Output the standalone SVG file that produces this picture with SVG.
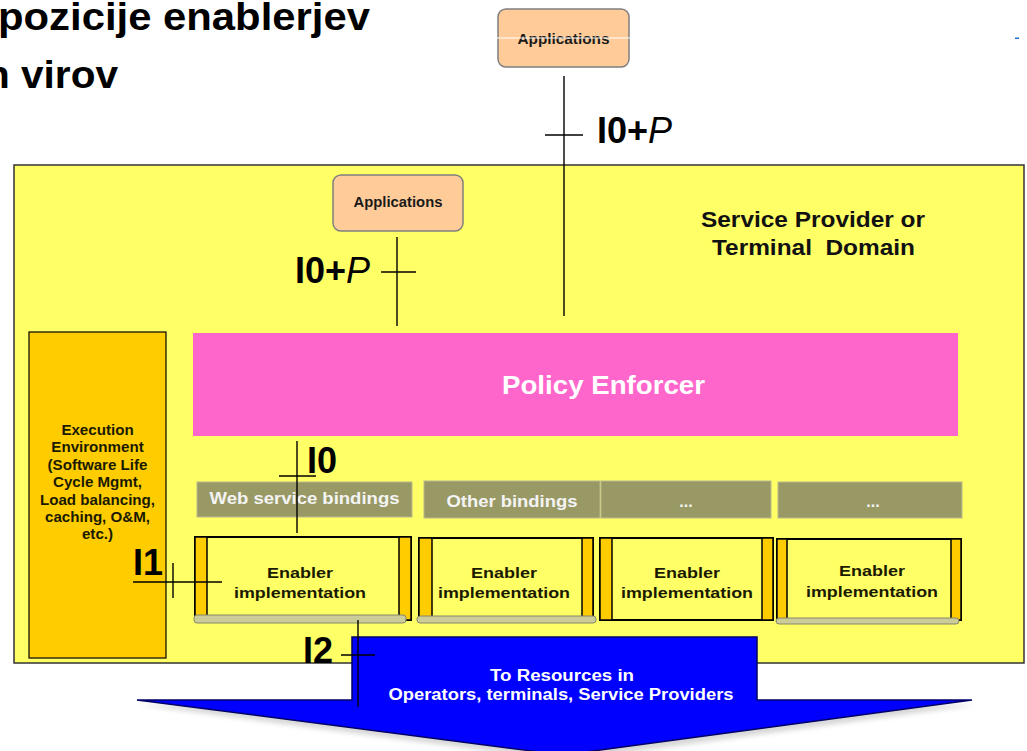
<svg xmlns="http://www.w3.org/2000/svg" width="1027" height="751" viewBox="0 0 1027 751">
<style>
text{font-family:"Liberation Sans",Arial,Helvetica,sans-serif;font-weight:bold}
.app rect{fill:#FFCC99;stroke:#7f7f7f;stroke-width:1.5}
.app text{font-size:14.5px;fill:#1a1a1a;text-anchor:middle}
.bind rect{fill:#999966;stroke:#b8b88e;stroke-width:1}
.bind text{font-size:16px;fill:#f4f4f4;text-anchor:middle}
.en .body{fill:#FFFF66;stroke:#000;stroke-width:2}
.en .bar{fill:#FFCC00;stroke:#000;stroke-width:1.5}
.en .base{fill:#CCCC99;stroke:#85856a;stroke-width:1}
.en text{font-size:15.5px;fill:#1a1a00;text-anchor:middle}
.lbl{font-size:36px;fill:#000}
.conn line{stroke:#000;stroke-width:1.4}
</style>
<defs>
  <filter id="soft" x="-10%" y="-10%" width="120%" height="130%">
    <feGaussianBlur stdDeviation="2.5"/>
  </filter>
</defs>

<!-- heading -->
<g id="heading">
  <text x="-2" y="30" font-size="38" textLength="372" lengthAdjust="spacingAndGlyphs">pozicije enablerjev</text>
  <text x="-15" y="88" font-size="38" textLength="133" lengthAdjust="spacingAndGlyphs">n virov</text>
</g>

<!-- outer applications -->
<g id="apps-top" class="app">
  <rect x="498" y="9" width="131" height="58" rx="8"/>
  <text x="563.5" y="44" textLength="92" lengthAdjust="spacingAndGlyphs">Applications</text>
  <line x1="496" y1="38" x2="630" y2="38" stroke="#fff" stroke-width="1"/>
</g>
<rect x="1015" y="37.5" width="4" height="1.5" fill="#1f6fd6"/>

<!-- domain -->
<g id="domain">
  <rect x="14" y="165" width="1010" height="498" fill="#FFFF66" stroke="#333" stroke-width="1.5"/>
  <text x="701" y="227" font-size="22" fill="#111" textLength="224" lengthAdjust="spacingAndGlyphs">Service Provider or</text>
  <text x="712" y="255" font-size="22" fill="#111" textLength="203" lengthAdjust="spacingAndGlyphs" xml:space="preserve">Terminal  Domain</text>
</g>

<g id="apps-inner" class="app">
  <rect x="333" y="175" width="130" height="56" rx="8"/>
  <text x="398" y="207" textLength="89" lengthAdjust="spacingAndGlyphs">Applications</text>
</g>

<g id="policy-enforcer">
  <rect x="193" y="333" width="765" height="103" fill="#FF66CC"/>
  <text x="603.5" y="394" font-size="26" fill="#fff" text-anchor="middle" textLength="203" lengthAdjust="spacingAndGlyphs">Policy Enforcer</text>
</g>

<g id="exec-env">
  <rect x="29" y="332" width="137" height="326" fill="#FFCC00" stroke="#000" stroke-width="1.2"/>
  <g transform="translate(97.5 0) scale(1.08 1)" font-size="14" fill="#1a1a00" text-anchor="middle">
    <text x="0" y="435">Execution</text>
    <text x="0" y="452">Environment</text>
    <text x="0" y="470">(Software Life</text>
    <text x="0" y="487">Cycle Mgmt,</text>
    <text x="0" y="505">Load balancing,</text>
    <text x="0" y="522">caching, O&amp;M,</text>
    <text x="0" y="539">etc.)</text>
  </g>
</g>

<!-- bindings -->
<g id="binding-ws" class="bind">
  <rect x="197" y="482" width="215" height="35"/>
  <text x="304.5" y="504" textLength="190" lengthAdjust="spacingAndGlyphs">Web service bindings</text>
</g>
<g id="binding-other" class="bind">
  <rect x="424" y="481" width="176" height="37"/>
  <text x="512" y="507" textLength="131" lengthAdjust="spacingAndGlyphs">Other bindings</text>
</g>
<g id="binding-3" class="bind">
  <rect x="601" y="481" width="170" height="37"/>
  <text x="686" y="507">...</text>
</g>
<g id="binding-4" class="bind">
  <rect x="778" y="482" width="184" height="36"/>
  <text x="873" y="507">...</text>
</g>

<!-- enabler implementations -->
<g id="enabler-1" class="en">
  <rect class="body" x="195" y="537" width="216" height="83"/>
  <rect class="bar" x="195" y="537" width="12" height="80"/>
  <rect class="bar" x="399" y="537" width="12" height="83"/>
  <rect class="base" x="194" y="615" width="212" height="8" rx="3"/>
  <text x="300" y="578" textLength="66" lengthAdjust="spacingAndGlyphs">Enabler</text>
  <text x="300" y="598" textLength="132" lengthAdjust="spacingAndGlyphs">implementation</text>
</g>
<g id="enabler-2" class="en">
  <rect class="body" x="419" y="538" width="174" height="82"/>
  <rect class="bar" x="419" y="538" width="13" height="80"/>
  <rect class="bar" x="582" y="538" width="11" height="82"/>
  <rect class="base" x="417" y="616" width="179" height="7" rx="3"/>
  <text x="504" y="578" textLength="66" lengthAdjust="spacingAndGlyphs">Enabler</text>
  <text x="504" y="598" textLength="132" lengthAdjust="spacingAndGlyphs">implementation</text>
</g>
<g id="enabler-3" class="en">
  <rect class="body" x="600" y="538" width="173" height="82"/>
  <rect class="bar" x="600" y="538" width="12" height="82"/>
  <rect class="bar" x="762" y="538" width="11" height="82"/>
  <text x="687" y="578" textLength="66" lengthAdjust="spacingAndGlyphs">Enabler</text>
  <text x="687" y="598" textLength="132" lengthAdjust="spacingAndGlyphs">implementation</text>
</g>
<g id="enabler-4" class="en">
  <rect class="body" x="777" y="539" width="184" height="81"/>
  <rect class="bar" x="777" y="539" width="10" height="80"/>
  <rect class="bar" x="951" y="539" width="10" height="81"/>
  <rect class="base" x="776" y="618" width="183" height="6" rx="3"/>
  <text x="872" y="576" textLength="66" lengthAdjust="spacingAndGlyphs">Enabler</text>
  <text x="872" y="597" textLength="132" lengthAdjust="spacingAndGlyphs">implementation</text>
</g>

<!-- resources arrow -->
<g id="resources">
  <polygon points="137,701 563,757 972,701" fill="#8c8c8c" opacity="0.35" transform="translate(3 4)" filter="url(#soft)"/>
  <polygon points="352,637 757,637 757,700 972,700 563,755 137,700 352,700" fill="#0000FF" stroke="#000066" stroke-width="1.5"/>
  <text x="562" y="681" font-size="16" fill="#fff" text-anchor="middle" textLength="144" lengthAdjust="spacingAndGlyphs">To Resources in</text>
  <text x="561" y="700" font-size="16" fill="#fff" text-anchor="middle" textLength="345" lengthAdjust="spacingAndGlyphs">Operators, terminals, Service Providers</text>
</g>

<!-- reference points -->
<g id="connectors" class="conn">
  <line x1="564" y1="76" x2="564" y2="316"/>
  <line x1="545" y1="135" x2="583" y2="135"/>
  <text class="lbl" x="597" y="143">I0+<tspan font-weight="normal" font-style="italic">P</tspan></text>

  <line x1="397" y1="237" x2="397" y2="326"/>
  <line x1="381" y1="272" x2="416" y2="272"/>
  <text class="lbl" x="370" y="283" font-size="35" text-anchor="end">I0+<tspan font-weight="normal" font-style="italic">P</tspan></text>

  <line x1="297" y1="441" x2="297" y2="533"/>
  <line x1="279" y1="476" x2="316" y2="476"/>
  <text class="lbl" x="307" y="473" font-size="35">I0</text>

  <line x1="133" y1="582" x2="222" y2="582"/>
  <line x1="173" y1="563" x2="173" y2="598"/>
  <text class="lbl" x="133" y="575">I1</text>

  <line x1="358" y1="620" x2="358" y2="707"/>
  <line x1="341" y1="655" x2="375" y2="655"/>
  <text class="lbl" x="303" y="663" font-size="32">I2</text>
</g>
</svg>
